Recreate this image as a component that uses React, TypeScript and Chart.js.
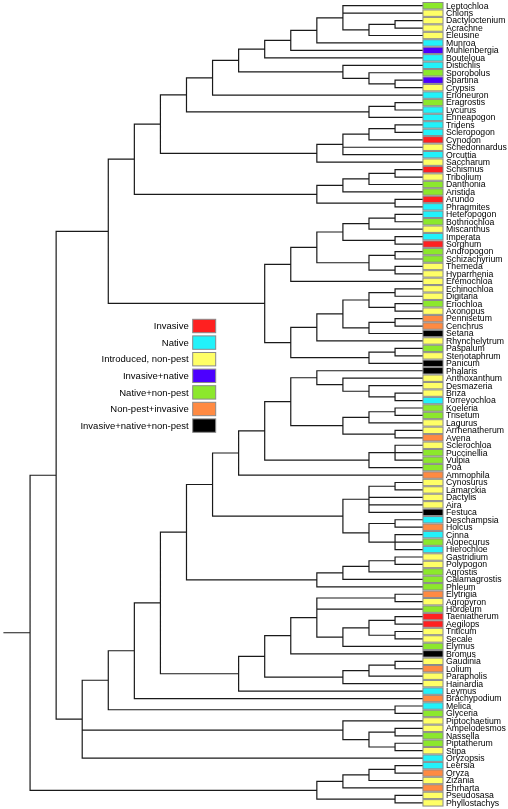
import React, { useEffect, useRef } from "react";
import { Chart, registerables } from "chart.js";

Chart.register(...registerables);

// Tree topology (Newick); the number after each ")" is the node's depth level on the x axis.
const TREE = `(
 (
  (
   (
    (
     (
      (
       (
        (
         (
          ((Leptochloa,Chloris,((Dactyloctenium,Acrachne)15,Eleusine)14)13,Munroa)12,
          Muhlenbergia
         )11,
         Bouteloua
        )10,
        (Distichlis,(Sporobolus,(Spartina,Crypsis)15)14)13
       )9,
       Erioneuron
      )8,
      ((Eragrostis,Lycurus)15,Enneapogon)14
     )7,
     ((((Tridens,Scleropogon)15,Cynodon)14,Schedonnardus,Orcuttia)13,Saccharum)12
    )6,
    ((((Schismus,Tribolium)15,Danthonia)14,Aristida)13,(Arundo,Phragmites)15)12
   )5,
   (
    (((((Heteropogon,Bothriochloa)15,Miscanthus)14,(Imperata,Sorghum)15)13,((Andropogon,Schizachyrium)15,(Themeda,Hyparrhenia)15)14)12,Eremochloa)11,
    (((((Echinochloa,Digitaria)15,(Eriochloa,Axonopus)15)14,((Pennisetum,Cenchrus)15,Setaria)14)13,Rhynchelytrum)12,((Paspalum,Stenotaphrum)15,Panicum)14)11
   )10
  )4,
  (
   (
    (
     (
      (
       (
        (
         (
          ((Phalaris,(Anthoxanthum,(Desmazeria,(Briza,Torreyochloa)15)14)13)12,(((Koeleria,Trisetum)15,Lagurus)14,(Arrhenatherum,Avena)15)13)11,
          ((Sclerochloa,Puccinellia,Vulpia)15,Poa)14
         )10,
         Ammophila
        )9,
        (((Cynosurus,Lamarckia)15,Dactylis,Aira,Festuca)14,((Deschampsia,Holcus)15,(Cinna,Alopecurus,Hierochloe)15)14)13
       )8,
       ((((Gastridium,Polypogon)15,Agrostis)14,Calamagrostis)13,Phleum)12
      )7,
      (
       (
        (
         ((Elytrigia,Agropyron)15,Hordeum,(((Taeniatherum,Aegilops)15,(Triticum,Secale)15)14,Elymus)13)12,
         Bromus
        )11,
        (((Gaudinia,Lolium)15,Parapholis)14,Hainardia)13
       )10,
       Leymus
      )9
     )6,
     Brachypodium
    )5,
    (Melica,Glyceria)15
   )4,
   (Piptochaetium,((Ampelodesmos,Nassella)15,(Piptatherum,Stipa)15)14)13,
   Oryzopsis
  )3
 )2,
 ((((Leersia,Oryza)15,Zizania)14,Ehrharta)13,(Pseudosasa,Phyllostachys)15)12
)1`;

const TAXA = [
  "Leptochloa", "Chloris", "Dactyloctenium", "Acrachne", "Eleusine", "Munroa", "Muhlenbergia",
  "Bouteloua", "Distichlis", "Sporobolus", "Spartina", "Crypsis", "Erioneuron", "Eragrostis",
  "Lycurus", "Enneapogon", "Tridens", "Scleropogon", "Cynodon", "Schedonnardus", "Orcuttia",
  "Saccharum", "Schismus", "Tribolium", "Danthonia", "Aristida", "Arundo", "Phragmites",
  "Heteropogon", "Bothriochloa", "Miscanthus", "Imperata", "Sorghum", "Andropogon",
  "Schizachyrium", "Themeda", "Hyparrhenia", "Eremochloa", "Echinochloa", "Digitaria",
  "Eriochloa", "Axonopus", "Pennisetum", "Cenchrus", "Setaria", "Rhynchelytrum", "Paspalum",
  "Stenotaphrum", "Panicum", "Phalaris", "Anthoxanthum", "Desmazeria", "Briza", "Torreyochloa",
  "Koeleria", "Trisetum", "Lagurus", "Arrhenatherum", "Avena", "Sclerochloa", "Puccinellia",
  "Vulpia", "Poa", "Ammophila", "Cynosurus", "Lamarckia", "Dactylis", "Aira", "Festuca",
  "Deschampsia", "Holcus", "Cinna", "Alopecurus", "Hierochloe", "Gastridium", "Polypogon",
  "Agrostis", "Calamagrostis", "Phleum", "Elytrigia", "Agropyron", "Hordeum", "Taeniatherum",
  "Aegilops", "Triticum", "Secale", "Elymus", "Bromus", "Gaudinia", "Lolium", "Parapholis",
  "Hainardia", "Leymus", "Brachypodium", "Melica", "Glyceria", "Piptochaetium", "Ampelodesmos",
  "Nassella", "Piptatherum", "Stipa", "Oryzopsis", "Leersia", "Oryza", "Zizania", "Ehrharta",
  "Pseudosasa", "Phyllostachys",
];

// Status category index per taxon (same order as TAXA)
const STATUS = [
  4, 2, 2, 2, 2, 1, 3,
  1, 1, 4, 3, 2, 1, 4,
  1, 1, 1, 1, 0, 2, 1,
  2, 0, 2, 4, 4, 0, 1,
  1, 4, 2, 1, 0, 4,
  4, 2, 2, 2, 2, 2,
  4, 2, 5, 5, 6, 2, 4,
  2, 6, 6, 2, 2, 2, 1,
  4, 4, 2, 2, 5, 2, 4,
  4, 4, 5, 2, 2, 2, 2, 6,
  1, 5, 1, 4, 1, 2, 2,
  4, 4, 4, 5, 2, 4, 0,
  0, 2, 2, 4, 6, 2, 5, 2,
  2, 1, 5, 1, 4, 2, 2,
  4, 4, 2, 1, 1, 5, 2, 5,
  2, 2,
];

const CATEGORIES = [
  "Invasive",
  "Native",
  "Introduced, non-pest",
  "Invasive+native",
  "Native+non-pest",
  "Non-pest+invasive",
  "Invasive+native+non-pest",
];

const CATEGORY_COLORS = ["#ff2020", "#22f2fa", "#ffff66", "#4c00ff", "#8ce82c", "#ff8a42", "#000000"];

const ROOT_LEVEL = 0;
const TIP_LEVEL = 16.07;
const BOX_LEVELS = 0.77;

type TreeNode = { name?: string; level?: number; children: TreeNode[]; x: number; y: number };

function parseNewick(src: string): TreeNode {
  const s = src.replace(/\s+/g, "");
  let i = 0;
  function parse(): TreeNode {
    if (s[i] === "(") {
      i++;
      const children: TreeNode[] = [];
      for (;;) {
        children.push(parse());
        if (s[i] === ",") { i++; continue; }
        if (s[i] === ")") { i++; break; }
        throw new Error("bad newick at " + i);
      }
      let num = "";
      while (i < s.length && /[0-9.]/.test(s[i])) num += s[i++];
      return { children, level: parseFloat(num), x: 0, y: 0 };
    }
    let name = "";
    while (i < s.length && !/[,()]/.test(s[i])) name += s[i++];
    return { name, children: [], x: 0, y: 0 };
  }
  const root = parse();
  if (i !== s.length) throw new Error("unbalanced newick: stopped at " + i + " of " + s.length);
  return root;
}

function layoutTree(root: TreeNode) {
  const tips: TreeNode[] = [];
  const walk = (n: TreeNode) => {
    if (n.children.length === 0) {
      n.x = TIP_LEVEL;
      n.y = tips.length;
      tips.push(n);
      return;
    }
    n.children.forEach(walk);
    n.x = n.level as number;
    n.y = (n.children[0].y + n.children[n.children.length - 1].y) / 2;
  };
  walk(root);
  const pts: { x: number; y: number | null }[] = [];
  const seg = (x0: number, y0: number, x1: number, y1: number) => {
    pts.push({ x: x0, y: y0 }, { x: x1, y: y1 }, { x: x1, y: null });
  };
  seg(ROOT_LEVEL, root.y, root.x, root.y);
  const edges = (n: TreeNode) => {
    if (n.children.length === 0) return;
    const first = n.children[0];
    const last = n.children[n.children.length - 1];
    seg(n.x, first.y, n.x, last.y);
    n.children.forEach((c) => {
      seg(n.x, c.y, c.x, c.y);
      edges(c);
    });
  };
  edges(root);
  return { tips, pts };
}

export default function App() {
  const ref = useRef<HTMLCanvasElement | null>(null);

  useEffect(() => {
    const root = parseNewick(TREE);
    const { tips, pts } = layoutTree(root);
    const statusOf: Record<string, number> = {};
    TAXA.forEach((t, k) => (statusOf[t] = STATUS[k]));

    const overlay = {
      id: "tipOverlay",
      afterDatasetsDraw(chart: any) {
        const { ctx, scales } = chart;
        const xs = scales.x;
        const ys = scales.y;
        const pitch = Math.abs(ys.getPixelForValue(1) - ys.getPixelForValue(0));
        const bx0 = xs.getPixelForValue(TIP_LEVEL);
        const bx1 = xs.getPixelForValue(TIP_LEVEL + BOX_LEVELS);
        const bh = pitch * 0.86;
        ctx.save();
        ctx.lineWidth = 1;
        ctx.strokeStyle = "#8a8a8a";
        tips.forEach((t) => {
          const cy = ys.getPixelForValue(t.y);
          ctx.fillStyle = CATEGORY_COLORS[statusOf[t.name as string]];
          ctx.fillRect(bx0, cy - bh / 2, bx1 - bx0, bh);
          ctx.strokeRect(bx0, cy - bh / 2, bx1 - bx0, bh);
        });
        ctx.fillStyle = "#000";
        ctx.font = "8.7px 'Liberation Sans', Arial, sans-serif";
        ctx.textAlign = "left";
        ctx.textBaseline = "middle";
        tips.forEach((t) => {
          const cy = ys.getPixelForValue(t.y);
          ctx.fillText(t.name as string, bx1 + 3, cy + 0.5);
        });
        // legend
        const lx0 = 192.7;
        const lw = 23;
        const lh = 13.4;
        const ly0 = 326;
        const lstep = 16.6;
        ctx.font = "9.5px 'Liberation Sans', Arial, sans-serif";
        ctx.textAlign = "right";
        CATEGORIES.forEach((c, k) => {
          const cy = ly0 + k * lstep;
          ctx.fillStyle = CATEGORY_COLORS[k];
          ctx.fillRect(lx0, cy - lh / 2, lw, lh);
          ctx.strokeStyle = "#8a8a8a";
          ctx.strokeRect(lx0, cy - lh / 2, lw, lh);
          ctx.fillStyle = "#000";
          ctx.fillText(c, lx0 - 4, cy + 0.5);
        });
        ctx.restore();
      },
    };

    const pxPerLevel = 26.07;
    const xMin = -4 / pxPerLevel;
    const xMax = xMin + 508 / pxPerLevel;
    const rowPx = 7.45;
    const yMin = -5.7 / rowPx;
    const yMax = yMin + 809 / rowPx;

    const chart = new Chart(ref.current as HTMLCanvasElement, {
      type: "scatter",
      data: {
        datasets: [
          {
            data: pts as any,
            showLine: true,
            spanGaps: false,
            borderColor: "#1a1a1a",
            borderWidth: 1.2,
            borderCapStyle: "square",
            pointRadius: 0,
            pointHoverRadius: 0,
          } as any,
        ],
      },
      options: {
        animation: false,
        responsive: true,
        maintainAspectRatio: false,
        layout: { padding: 0 },
        plugins: { legend: { display: false }, tooltip: { enabled: false }, title: { display: false } },
        events: [],
        scales: {
          x: { type: "linear", min: xMin, max: xMax, display: false },
          y: { type: "linear", min: yMin, max: yMax, reverse: true, display: false },
        },
      },
      plugins: [overlay],
    });
    return () => chart.destroy();
  }, []);

  return (
    <div style={{ position: "absolute", left: 0, top: 0, width: 508, height: 809, background: "#fff" }}>
      <canvas ref={ref} />
    </div>
  );
}
